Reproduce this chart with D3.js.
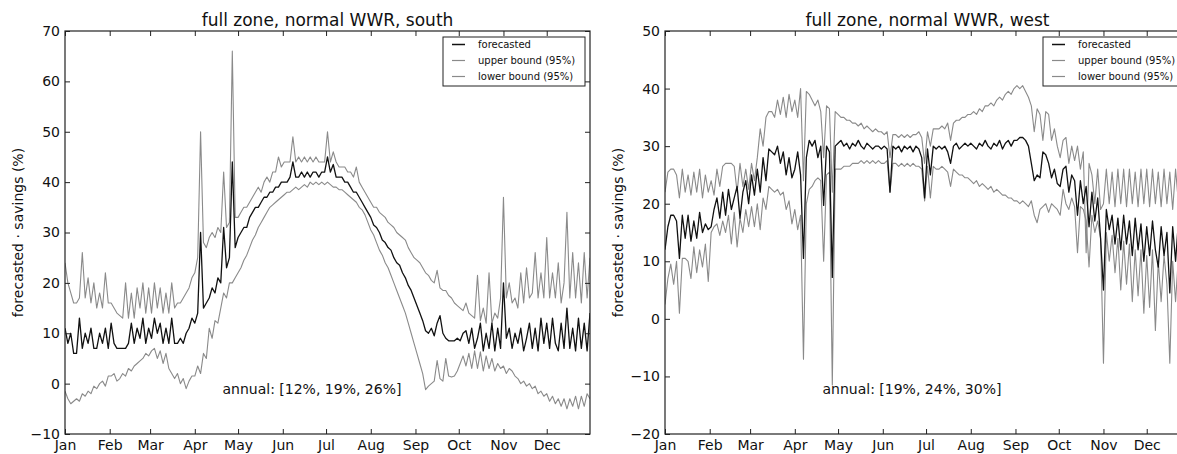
<!DOCTYPE html>
<html>
<head>
<meta charset="utf-8">
<script src="https://cdn.jsdelivr.net/npm/d3@7"></script>
<style>
  body { margin: 0; background: #fff; }
  svg text { font-family: "DejaVu Sans", sans-serif; fill: #111; }
</style>
</head>
<body>
<svg id="chart" width="1177" height="454"></svg>
<script>
// Daily forecast of savings, sampled every second day of the year
const monthLabels = ["Jan", "Feb", "Mar", "Apr", "May", "Jun", "Jul", "Aug", "Sep", "Oct", "Nov", "Dec"];
const monthStarts = [0, 31, 59, 90, 120, 151, 181, 212, 243, 273, 304, 334];
const days = d3.range(0, 365, 2);

const southTicks = [-10, 0, 10, 20, 30, 40, 50, 60, 70];
const westTicks = [-20, -10, 0, 10, 20, 30, 40, 50];
const legendLabels = ["forecasted", "upper bound (95%)", "lower bound (95%)"];

// south
const southForecast = [
  11, 8, 10, 6, 6, 13, 7, 10, 8, 11, 7, 7, 10, 8, 11, 7,
  12, 8, 7, 7, 7, 7, 8, 12, 8, 11, 9, 13, 8, 11,
  9, 13, 10, 12, 8, 11, 8, 13, 8, 8, 9, 8, 10, 11, 13,
  12, 14, 30, 15, 16, 17, 19, 18, 21, 20, 31, 23, 25, 44, 27,
  29, 30, 31, 31, 33, 34, 35, 35, 36, 37, 37, 38, 38, 39, 39, 40,
  40, 40, 41, 44, 41, 41, 42, 41, 42, 41, 42, 42, 41, 42, 42,
  45, 42, 43.5, 41, 41, 41, 40, 40, 39, 38, 38, 37, 36, 35, 34,
  33, 31.5, 31, 30, 28.5, 28, 27, 26.5, 25, 24, 23.5, 22, 21, 19.5, 18.5, 17,
  15.5, 14, 12.5, 10.5, 10, 11, 9.5, 12, 13.5, 10, 9, 8.5, 8.5, 8.5, 9,
  8.5, 10, 10.5, 8, 11, 7, 9, 12, 6.5, 10, 7, 12, 6.5, 11, 7,
  20, 9, 11, 7, 10, 8, 11, 6.5, 9, 12, 7, 11, 6.5, 13, 8,
  12, 7, 13, 8, 6.5, 12, 7, 15, 7, 11, 6.5, 13, 7, 12, 6.5, 14
];
const southUpper = [
  24, 20, 18, 16, 16, 17, 26, 17, 21, 16, 20, 15, 18, 15, 22, 16,
  16, 15, 14, 13.5, 13, 20, 13, 18, 13, 19, 15, 20, 14, 19,
  14, 20, 15, 19, 14, 18, 14, 20, 15, 16, 16, 17, 18, 19, 21,
  22, 25, 50, 28, 27, 29, 30, 29, 31, 30, 42, 31, 32, 66, 33,
  33, 34, 35, 35, 36, 37, 38, 39, 38, 40, 41, 40, 42, 42, 45, 43,
  44, 44, 44, 49, 44, 45, 44, 45, 44, 45, 44, 45, 44, 44, 44,
  50, 44, 46, 44, 43, 43, 43, 42, 42, 41, 43, 40, 39, 38, 37,
  36, 35, 35, 34, 33.5, 33, 32, 31.5, 31, 30, 29.5, 29, 28.5, 27, 26, 25,
  24.5, 24, 23, 22, 21.5, 20.5, 20, 22.5, 19, 18.5, 18.5, 17.5, 17, 16, 15.5,
  15, 14.5, 16, 14, 13.5, 13, 21.5, 12.5, 15, 12, 22, 12, 14, 13, 17,
  37, 17, 20, 16, 17, 15, 22, 16, 23, 17, 18, 26, 17, 22, 17,
  29, 17, 22, 17, 24, 16, 20, 34, 17, 26, 17, 24, 16, 26, 17, 25
];
const southLower = [
  -1.5, -3, -4, -3.5, -3, -3.5, -2, -2.5, -1.5, -2, -0.5, -1, 0, 0.5, -0.5, 1.5,
  1.5, 2, 0.5, 1, 2, 1.5, 3, 2.5, 3.5, 4, 4.5, 5, 6, 5.5,
  6.5, 7, 5, 6.5, 4, 6, 3, 2, 1, 2, 0, 1, -1, 0.5, 1.5,
  1.5, 3.5, 2, 6, 5, 11, 9, 12.5, 12, 15, 18, 17, 20, 20, 21,
  22, 23, 24.5, 25.5, 27, 28.5, 29.5, 31, 32, 33, 34, 35, 35.5, 36, 36.5, 37,
  37.5, 38, 38, 38.5, 39, 38.5, 39, 39.5, 39, 40, 39.5, 40, 39.5, 40, 39.5,
  40, 39.5, 39, 39, 38.5, 38.5, 38, 37.5, 37, 36.5, 36, 35, 34.5, 33.5, 32,
  30.5, 29.5, 28, 26.5, 25.5, 24, 23, 21.5, 20, 18.5, 17, 15.5, 14, 12, 10, 8,
  6, 4, 2, -1.2, -0.5, 0, 0.5, 4.6, 1, 0.5, 5, 1.5, 1.3, 1.5, 2.5,
  4, 5.5, 3.5, 6, 3, 6.5, 3, 6.3, 2.5, 5.5, 3, 5, 2.5, 4, 3,
  3.5, 2, 3, 2.5, 1.5, 1, 0, 0.5, -0.5, 0, -1, -0.5, -2, -1.5, -2.5,
  -2, -3.5, -2.5, -4, -3, -4.5, -3, -5, -3, -4.5, -2.5, -5, -2.5, -4.5, -2, -3
];

// west
const westForecast = [
  12, 16, 18, 18, 17, 10.5, 18, 14, 18, 13.5, 17, 14, 18.5, 15, 16.5, 15.5,
  16, 19, 21, 17.5, 22, 18, 22.5, 19, 21, 23, 17.5, 22, 24, 20,
  25, 21.5, 26, 22, 28, 24, 29.5, 29, 28.5, 30, 27, 29, 25, 28, 24.5,
  26, 29, 25, 10.5, 28, 31, 30, 31, 28, 30, 19.7, 30, 29, 7.2, 30,
  30.5, 31, 30, 30.5, 29.5, 30.5, 30, 31, 30, 29.5, 30.5, 30, 29.5, 30, 30, 29.5,
  30, 29.5, 22, 30, 29.5, 30, 29, 30, 29.5, 30, 29, 30, 29.5, 28, 21,
  29.5, 25, 30, 29.5, 30, 29.5, 30, 29, 27, 30, 30.5, 29.5, 30, 30.5, 30,
  30.5, 30, 29.5, 30.5, 30, 31, 30, 29.5, 30.5, 30, 31, 29.5, 30.5, 31, 30, 31,
  31, 31.5, 31.5, 31, 30, 27, 24, 25, 24.5, 29, 28.5, 27, 24.5, 26, 23.5,
  23, 26, 26.5, 22, 25, 24, 18, 24, 20, 23, 16, 22, 17, 21, 14,
  5, 19, 15.5, 18, 13, 17.5, 12, 18, 13, 17, 11, 17.5, 12, 16.5, 10,
  16, 11, 17, 12, 9, 16, 11, 15, 4.5, 16, 10, 17, 11, 14, 12, 15
];
const westUpper = [
  22, 25.5, 26, 26, 25, 21, 26, 22, 25, 21.5, 25.5, 22, 26, 21, 25, 22,
  24, 21.5, 26, 23, 26.5, 27, 27, 27, 26.5, 22, 27, 23, 26, 22.5,
  27, 24, 28, 33, 30, 35, 36, 36, 35, 38, 35.5, 38.5, 35, 39, 36,
  38, 35, 40, 24, 39.5, 39, 38, 37, 38, 36, 28, 37, 36.5, 22, 36,
  35.5, 35, 35, 34.5, 34.5, 34, 34, 33.5, 34, 33, 33.5, 33, 32.5, 33, 32.5, 32.5,
  32, 32.5, 28, 32, 32, 31.5, 32, 31.5, 32, 31.5, 32, 32, 32.5, 31.5, 27,
  32.5, 30, 33, 33, 33, 33.5, 33, 34, 31, 34, 34.5, 34.5, 35, 35, 35.5,
  35.5, 36, 35.5, 36.5, 36, 37, 37, 37.5, 37, 38, 38.5, 38, 39, 39.5, 39, 40,
  40.5, 40, 40.5, 39.5, 38.5, 37, 32.5, 36.5, 35.5, 31, 36, 35.5, 31, 33, 30,
  28, 31, 31.5, 27, 30, 27.5, 30, 26, 29, 11.5, 27, 25, 20, 26, 19,
  20, 26, 20, 25.5, 19.5, 26, 20, 26, 19.5, 26, 20, 25.5, 19.5, 26, 20,
  26, 19.5, 26, 20, 25.5, 19.5, 26, 20, 25.5, 19, 26, 20, 26, 19.5, 26, 21
];
const westLower = [
  2.5, 7, 9.5, 6, 10, 1, 10.5, 10.5, 10, 7, 12.5, 8, 12, 9, 13, 6.5,
  15, 16, 16.5, 14.5, 17, 15, 18, 13, 18.5, 12.5, 17.5, 15, 19, 16,
  19.5, 16, 20, 15.5, 21, 19, 23, 22.5, 22, 22.5, 21.5, 22, 19, 20.5, 16.5,
  19, 15.5, 18, -7, 20, 22.5, 23, 24, 24.5, 24, 10, 25, 25.5, -11.5, 26,
  26, 26, 26.5, 26.5, 26.5, 27, 27, 27, 27.5, 27, 27.5, 27, 27.5, 27, 27.5, 27,
  27, 27.5, 22, 27, 27, 26.5, 27, 26.5, 27, 26.5, 27, 26.5, 26.5, 26, 20.5,
  26.5, 21, 26.5, 26, 26, 26.5, 26, 25.5, 23, 26, 25.5, 25, 25, 24.5, 24.5,
  24, 23.5, 24, 23, 23.5, 23, 22.5, 23, 22, 22.5, 22, 21.5, 21.5, 21, 21, 20.5,
  20.5, 20, 20.5, 20, 19.5, 20.5, 18, 16.7, 19, 19.5, 20, 18.5, 20, 19.5, 19,
  18, 22.5, 20, 19, 21, 19.5, 11.5, 19.5, 19, 17, 9, 18, 15, 17, 14,
  -7.7, 15, 10, 14.5, 8, 14, 5, 13.5, 6, 13, 3, 12, 4, 12, 1,
  11, 2, 12, -2, 10, 3, 11, 6, -7.7, 10, 3, 11, -2, 10, 4, 9
];

const colors = { forecast: "#111", bound: "#8a8a8a", axis: "#222" };

const svg = d3.select("#chart");

const panels = [
  { key: "south", left: 65, title: "full zone, normal WWR, south", domain: [-10, 70], ticks: southTicks,
    series: [southForecast, southUpper, southLower], annual: "annual: [12%, 19%, 26%]" },
  { key: "west", left: 665, title: "full zone, normal WWR, west", domain: [-20, 50], ticks: westTicks,
    series: [westForecast, westUpper, westLower], annual: "annual: [19%, 24%, 30%]" }
];

panels.forEach(drawPanel);

function drawPanel(p) {
  const w = 525, top = 31, bottom = 434;
  const x = d3.scaleLinear().domain([0, 364]).range([p.left, p.left + w]);
  const y = d3.scaleLinear().domain(p.domain).range([bottom, top]);
  const fmt = d => d < 0 ? "\u2212" + Math.abs(d) : String(d);

  svg.append("clipPath").attr("id", "clip-" + p.key)
    .append("rect").attr("x", p.left).attr("y", top).attr("width", w).attr("height", bottom - top);

  // lines: bounds first, forecast on top
  const line = vals => d3.line().x((d, i) => x(days[i])).y(d => y(d))(vals);
  const g = svg.append("g").attr("clip-path", `url(#clip-${p.key})`);
  [2, 1, 0].forEach(k => {
    g.append("path")
      .attr("d", line(p.series[k]))
      .attr("fill", "none")
      .attr("stroke", k === 0 ? colors.forecast : colors.bound)
      .attr("stroke-width", k === 0 ? 1.3 : 1.1)
      .attr("stroke-linejoin", "round");
  });

  // axes, ticks inside on all four sides
  const styleAxis = sel => {
    sel.select(".domain").remove();
    sel.selectAll(".tick line").attr("stroke", colors.axis);
    sel.selectAll("text").style("font-size", "14px").attr("fill", "#111");
  };
  svg.append("g").attr("transform", `translate(0,${bottom})`)
    .call(d3.axisBottom(x).tickValues(monthStarts).tickFormat((d, i) => monthLabels[i]).tickSize(-5).tickPadding(6))
    .call(styleAxis);
  svg.append("g").attr("transform", `translate(0,${top})`)
    .call(d3.axisTop(x).tickValues(monthStarts).tickFormat("").tickSize(-5))
    .call(styleAxis);
  svg.append("g").attr("transform", `translate(${p.left},0)`)
    .call(d3.axisLeft(y).tickValues(p.ticks).tickFormat(fmt).tickSize(-5).tickPadding(5))
    .call(styleAxis);
  svg.append("g").attr("transform", `translate(${p.left + w},0)`)
    .call(d3.axisRight(y).tickValues(p.ticks).tickFormat("").tickSize(-5))
    .call(styleAxis);

  svg.append("rect")
    .attr("x", p.left).attr("y", top).attr("width", w).attr("height", bottom - top)
    .attr("fill", "none").attr("stroke", colors.axis).attr("stroke-width", 1.2);

  // title
  svg.append("text")
    .attr("x", p.left + w / 2).attr("y", 26)
    .attr("text-anchor", "middle").style("font-size", "17px")
    .text(p.title);

  // y label
  svg.append("text")
    .attr("transform", `translate(${p.left - 47},${(top + bottom) / 2}) rotate(-90)`)
    .attr("text-anchor", "middle").attr("dy", "0.35em").style("font-size", "14px")
    .text("forecasted \u00b7 savings (%)");

  // annual summary, axes fraction (0.3, 0.1)
  svg.append("text")
    .attr("x", p.left + 0.3 * w).attr("y", bottom - 0.1 * (bottom - top))
    .style("font-size", "14px")
    .text(p.annual);

  // legend
  const lx = p.left + w - 147, ly = 37;
  const leg = svg.append("g").attr("transform", `translate(${lx},${ly})`);
  leg.append("rect").attr("width", 142).attr("height", 49)
    .attr("fill", "#fff").attr("stroke", colors.axis).attr("stroke-width", 1);
  legendLabels.forEach((lab, i) => {
    const cy = 7.5 + i * 16;
    leg.append("line").attr("x1", 9).attr("x2", 22).attr("y1", cy).attr("y2", cy)
      .attr("stroke", i === 0 ? colors.forecast : colors.bound).attr("stroke-width", i === 0 ? 1.5 : 1.2);
    leg.append("text").attr("x", 35).attr("y", cy).attr("dy", "0.35em")
      .style("font-size", "10px").text(lab);
  });
}
</script>
</body>
</html>
